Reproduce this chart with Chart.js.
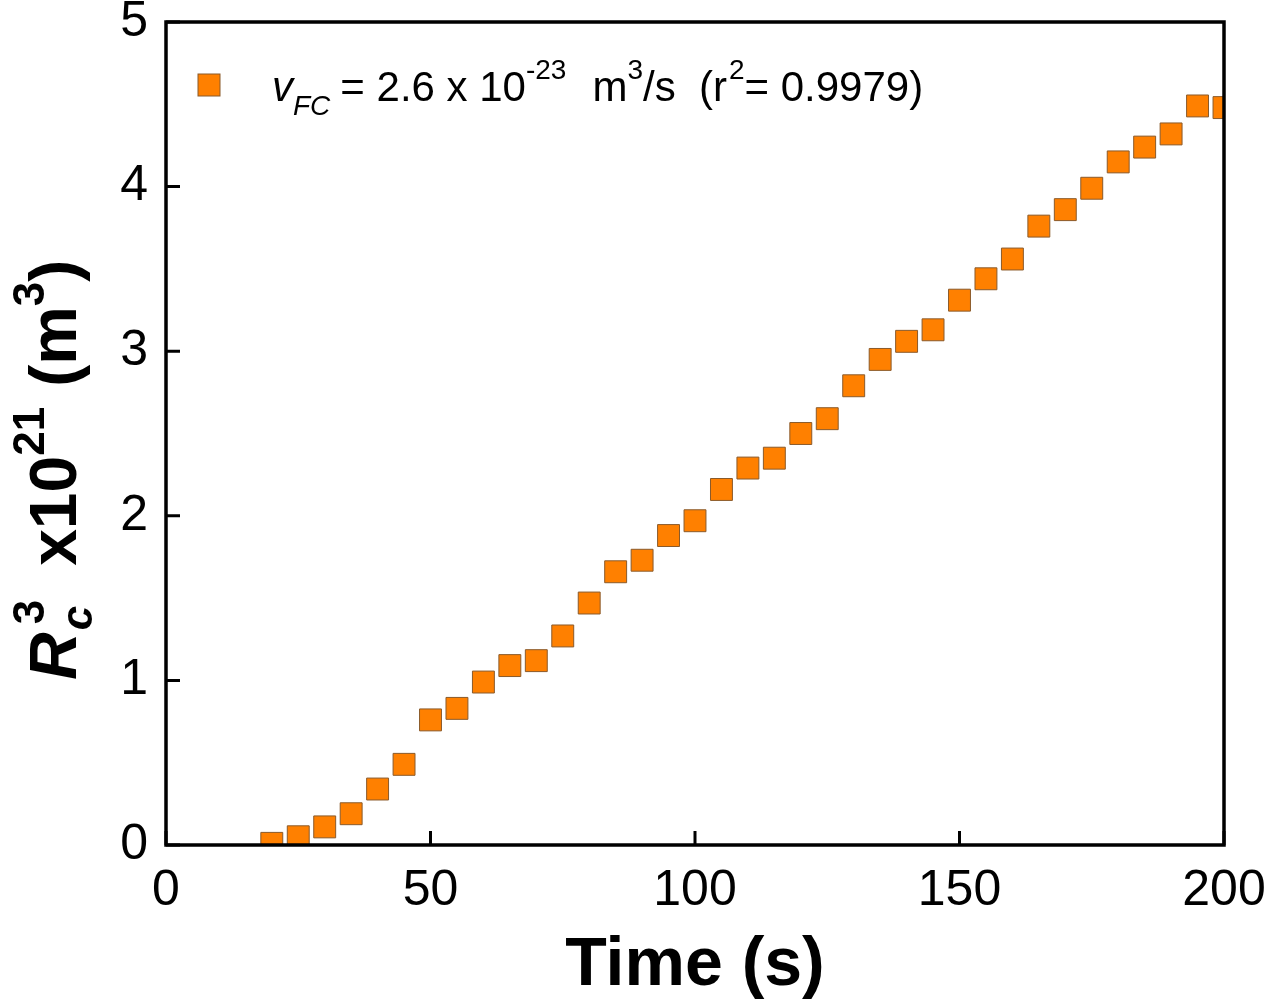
<!DOCTYPE html>
<html>
<head>
<meta charset="utf-8">
<script src="https://cdn.jsdelivr.net/npm/chart.js@4"></script>
<style>
  body { margin: 0; background: #fff; }
  #wrap { width: 1266px; height: 1000px; }
</style>
</head>
<body>
<div id="wrap"><canvas id="rcChart" width="1266" height="1000"></canvas></div>
<script>
'use strict';

// time in seconds
var timeVals = [20, 25, 30, 35, 40, 45, 50, 55, 60, 65, 70, 75, 80, 85, 90, 95, 100,
  105, 110, 115, 120, 125, 130, 135, 140, 145, 150, 155, 160, 165, 170, 175, 180,
  185, 190, 195, 200];
// Rc^3 x 10^21 (m^3)
var rc3Vals = [0.01, 0.05, 0.11, 0.19, 0.34, 0.49, 0.76, 0.83, 0.99, 1.09, 1.12, 1.27,
  1.47, 1.66, 1.73, 1.88, 1.97, 2.16, 2.29, 2.35, 2.50, 2.59, 2.79, 2.95, 3.06, 3.13,
  3.31, 3.44, 3.56, 3.76, 3.86, 3.99, 4.15, 4.24, 4.32, 4.49, 4.48];

var xTicks = [0, 50, 100, 150, 200];
var yTicks = [0, 1, 2, 3, 4, 5];

var FONT = '"Liberation Sans", Arial, sans-serif';
var ORANGE = '#ff8000';

var points = [];
for (var i = 0; i < timeVals.length; i++) {
  points.push({ x: timeVals[i], y: rc3Vals[i] });
}

// draws a run of text pieces, each with its own font and baseline shift
function drawPieces(ctx, x, y, pieces) {
  for (var i = 0; i < pieces.length; i++) {
    var p = pieces[i];
    ctx.font = p.font;
    ctx.fillText(p.text, x + (p.dx || 0), y + (p.dy || 0));
    if (!p.stack) x += ctx.measureText(p.text).width + (p.dx || 0) + (p.gap || 0);
  }
}

var framePlugin = {
  id: 'framePlugin',
  afterDraw: function (chart) {
    var ctx = chart.ctx;
    var a = chart.chartArea;
    var xs = chart.scales.x;
    var ys = chart.scales.y;
    ctx.save();
    ctx.strokeStyle = '#000';
    ctx.lineWidth = 3.5;
    ctx.strokeRect(a.left, a.top, a.right - a.left, a.bottom - a.top);

    // inward ticks on bottom and left
    ctx.lineWidth = 3;
    ctx.beginPath();
    xTicks.forEach(function (t) {
      var px = xs.getPixelForValue(t);
      ctx.moveTo(px, a.bottom);
      ctx.lineTo(px, a.bottom - 14);
    });
    yTicks.forEach(function (t) {
      var py = ys.getPixelForValue(t);
      ctx.moveTo(a.left, py);
      ctx.lineTo(a.left + 14, py);
    });
    ctx.stroke();

    ctx.fillStyle = '#000';
    ctx.textBaseline = 'alphabetic';

    // x title
    ctx.font = 'bold 68px ' + FONT;
    ctx.textAlign = 'center';
    ctx.fillText('Time (s)', (a.left + a.right) / 2, 985);

    // y title, rotated
    ctx.textAlign = 'left';
    ctx.save();
    ctx.translate(76, 680);
    ctx.rotate(-Math.PI / 2);
    drawPieces(ctx, 0, 0, [
      { text: 'R', font: 'italic bold 66px ' + FONT, gap: 2 },
      { text: 'c', font: 'italic bold 44px ' + FONT, dy: 16, stack: true },
      { text: '3', font: 'bold 44px ' + FONT, dx: 6, dy: -32, gap: 34 },
      { text: 'x10', font: 'bold 66px ' + FONT },
      { text: '21', font: 'bold 44px ' + FONT, dy: -32, gap: 20 },
      { text: '(m', font: 'bold 66px ' + FONT },
      { text: '3', font: 'bold 44px ' + FONT, dy: -32 },
      { text: ')', font: 'bold 66px ' + FONT }
    ]);
    ctx.restore();

    // legend
    ctx.fillStyle = ORANGE;
    ctx.fillRect(198, 74, 22, 22);
    ctx.strokeStyle = '#8a5a2a';
    ctx.lineWidth = 1;
    ctx.strokeRect(198, 74, 22, 22);
    ctx.fillStyle = '#000';
    drawPieces(ctx, 272, 101, [
      { text: 'v', font: 'italic 42px ' + FONT },
      { text: 'FC', font: 'italic 28px ' + FONT, dy: 14, gap: 10 },
      { text: '= 2.6 x 10', font: '42px ' + FONT },
      { text: '-23', font: '28px ' + FONT, dy: -22, gap: 26 },
      { text: 'm', font: '42px ' + FONT },
      { text: '3', font: '28px ' + FONT, dy: -22 },
      { text: '/s  (r', font: '42px ' + FONT, gap: 2 },
      { text: '2', font: '28px ' + FONT, dy: -22 },
      { text: '= 0.9979)', font: '42px ' + FONT }
    ]);
    ctx.restore();
  }
};

var ctx = document.getElementById('rcChart').getContext('2d');
var chart = new Chart(ctx, {
  type: 'scatter',
  data: {
    datasets: [{
      label: 'vFC',
      data: points,
      pointStyle: 'rect',
      pointRadius: 15.5,
      pointHoverRadius: 15.5,
      backgroundColor: ORANGE,
      borderColor: '#8a5a2a',
      borderWidth: 1
    }]
  },
  options: {
    responsive: false,
    devicePixelRatio: 1,
    animation: false,
    layout: { padding: { top: 22, right: 42, left: 0, bottom: 0 } },
    plugins: {
      legend: { display: false },
      tooltip: { enabled: false }
    },
    scales: {
      x: {
        type: 'linear',
        min: 0,
        max: 200,
        grid: { display: false, drawTicks: false },
        border: { display: false },
        ticks: {
          stepSize: 50,
          padding: 16,
          color: '#000',
          maxRotation: 0,
          font: { family: FONT, size: 50 }
        },
        afterFit: function (scale) {
          scale.height = 155;
          scale.paddingLeft = 0;
          scale.paddingRight = 0;
        }
      },
      y: {
        type: 'linear',
        min: 0,
        max: 5,
        grid: { display: false, drawTicks: false },
        border: { display: false },
        ticks: {
          stepSize: 1,
          padding: 18,
          color: '#000',
          font: { family: FONT, size: 50 }
        },
        afterFit: function (scale) {
          scale.width = 166;
          scale.paddingTop = 0;
          scale.paddingBottom = 0;
        }
      }
    }
  },
  plugins: [framePlugin]
});
</script>
</body>
</html>
